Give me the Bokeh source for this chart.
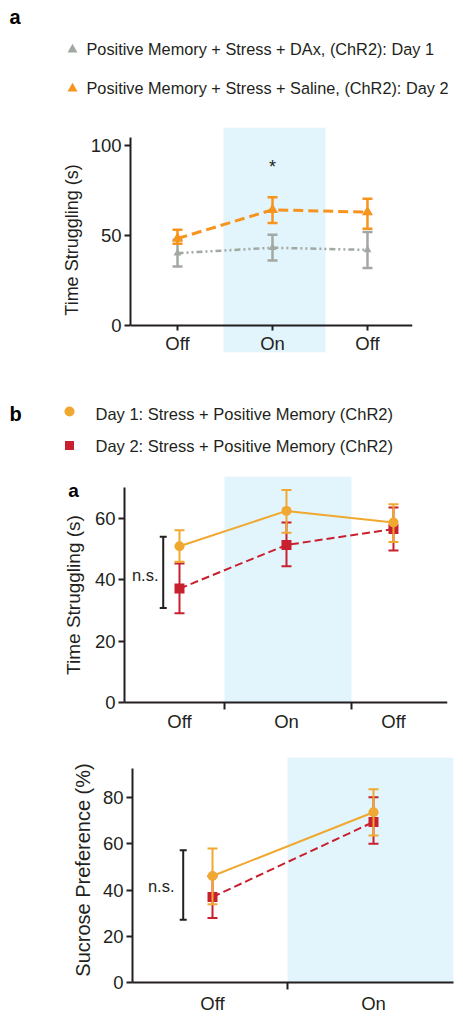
from bokeh.plotting import figure
from bokeh.layouts import column
from bokeh.models import Range1d, FixedTicker, BoxAnnotation
from bokeh.core.properties import value
from bokeh.embed import file_html
from bokeh.resources import INLINE

FONT = "Liberation Sans"
INK = "#231F20"
SHADE = "#E2F4FC"
ORANGE_A = "#F7941E"
GRAY_A = "#A2A9A3"
ORANGE_B = "#F0A830"
RED_B = "#C8202F"
W = 463

# ---------------- data ----------------
# panel a
a_conditions = ["Off", "On", "Off"]
a_x = [0, 1, 2]
a_dax_mean = [40.2, 43.2, 42.0]
a_dax_lo = [32.8, 36.1, 32.0]
a_dax_hi = [47.6, 50.4, 52.0]
a_sal_mean = [48.3, 64.3, 63.0]
a_sal_lo = [45.4, 57.0, 53.7]
a_sal_hi = [53.2, 71.3, 70.4]
a_legend = ["Positive Memory + Stress + DAx, (ChR2): Day 1",
            "Positive Memory + Stress + Saline, (ChR2): Day 2"]

# panel b, time struggling
b1_conditions = ["Off", "On", "Off"]
b1_x = [0, 1, 2]
b1_day1_mean = [50.9, 62.4, 58.6]
b1_day1_lo = [45.8, 55.3, 52.3]
b1_day1_hi = [56.1, 69.2, 64.6]
b1_day2_mean = [37.1, 51.3, 56.5]
b1_day2_lo = [29.1, 44.4, 49.5]
b1_day2_hi = [45.3, 58.6, 63.5]

# panel b, sucrose preference
b2_conditions = ["Off", "On"]
b2_x = [0, 1]
b2_day1_mean = [46.1, 73.7]
b2_day1_lo = [33.9, 63.6]
b2_day1_hi = [58.0, 83.7]
b2_day2_mean = [37.0, 69.5]
b2_day2_lo = [27.9, 60.1]
b2_day2_hi = [46.0, 80.2]
b_legend = ["Day 1: Stress + Positive Memory (ChR2)",
            "Day 2: Stress + Positive Memory (ChR2)"]


def style_axes(p, label_size="18px"):
    for ax in p.axis:
        ax.axis_line_width = 2
        ax.axis_line_color = INK
        ax.major_tick_line_width = 2
        ax.major_tick_line_color = INK
        ax.minor_tick_line_width = 2
        ax.minor_tick_line_color = INK
        ax.major_tick_in = 0
        ax.minor_tick_in = 0
        ax.minor_tick_out = 0
        ax.major_tick_out = 6
        ax.major_label_text_font = FONT
        ax.major_label_text_font_size = "18.5px"
        ax.major_label_text_color = INK
        ax.axis_label_text_font = FONT
        ax.axis_label_text_font_size = label_size
        ax.axis_label_text_font_style = "normal"
        ax.axis_label_text_color = INK
    p.grid.visible = False
    p.outline_line_color = None


def errorbars(p, xs, lo, hi, color, width=2, cap=10):
    p.segment(x0=xs, y0=lo, x1=xs, y1=hi, line_color=color, line_width=width)
    p.scatter(x=xs + xs, y=lo + hi, marker="dash", size=cap, line_color=color,
              line_width=width)


def legend_fig(h, y0):
    p = figure(width=W, height=h, x_range=Range1d(0, W), y_range=Range1d(y0 + h, y0),
               x_axis_type=None, y_axis_type=None, toolbar_location=None,
               output_backend="svg", min_border=0, min_border_left=0, min_border_right=0,
               min_border_top=0, min_border_bottom=0, frame_align=False)
    p.grid.visible = False
    p.outline_line_color = None
    return p


# ---------------- legend a ----------------
L1 = legend_fig(108, 0)
L1.text(x=[9], y=[16], text=["a"], text_font=value(FONT), text_font_size="20px",
        text_font_style="bold", text_baseline="middle", text_color="black")
L1.scatter(x=[72], y=[49], marker="triangle", size=10, fill_color=GRAY_A, line_color=None)
L1.scatter(x=[72], y=[88], marker="triangle", size=10, fill_color=ORANGE_A, line_color=None)
L1.text(x=[86, 86], y=[48, 87], text=a_legend, text_font=value(FONT), text_font_size="16.3px",
        text_baseline="middle", text_color=INK)

# ---------------- panel a ----------------
p1 = figure(width=W, height=252, x_range=Range1d(-0.495, 2.474), y_range=Range1d(-15, 110),
            min_border_left=130, min_border_right=W - 412, min_border_top=19, min_border_bottom=8,
            toolbar_location=None, output_backend="svg", frame_align=False)
p1.add_layout(BoxAnnotation(left=0.484, right=1.558, fill_color=SHADE, fill_alpha=1,
                            line_color=None, level="underlay"))
style_axes(p1, "18px")
p1.xaxis.fixed_location = 0
p1.xaxis.ticker = FixedTicker(ticks=a_x)
p1.xaxis.major_label_overrides = {x: c for x, c in zip(a_x, a_conditions)}
p1.xaxis.major_tick_out = 5
p1.xaxis.major_label_standoff = 2
p1.yaxis.ticker = FixedTicker(ticks=[0, 50, 100])
p1.yaxis.bounds = (0, 104.6)
p1.yaxis.axis_label = "Time Struggling (s)"
p1.yaxis.major_label_standoff = 3
p1.yaxis.axis_label_standoff = 6

errorbars(p1, a_x, a_dax_lo, a_dax_hi, GRAY_A, width=2.5)
p1.line(a_x, a_dax_mean, line_color=GRAY_A, line_width=2.5, line_dash="6 3 2 3 2 3")
p1.scatter(a_x, a_dax_mean, marker="triangle", size=8, fill_color=GRAY_A, line_color=None)
errorbars(p1, a_x, a_sal_lo, a_sal_hi, ORANGE_A, width=2.5)
p1.line(a_x, a_sal_mean, line_color=ORANGE_A, line_width=3, line_dash="10 5")
p1.scatter(a_x, a_sal_mean, marker="triangle", size=11, fill_color=ORANGE_A, line_color=None)
p1.text(x=[1], y=[88], text=["*"], text_font=value(FONT), text_font_size="18px",
        text_align="center", text_baseline="middle", text_color=INK)

# ---------------- legend b ----------------
L2 = legend_fig(110, 360)
L2.text(x=[9], y=[413], text=["b"], text_font=value(FONT), text_font_size="20px",
        text_font_style="bold", text_baseline="middle", text_color="black")
L2.scatter(x=[69], y=[411], marker="circle", size=10, fill_color=ORANGE_B, line_color=None)
L2.scatter(x=[69], y=[445], marker="square", size=9, fill_color=RED_B, line_color=None)
L2.text(x=[95, 95], y=[413, 445], text=b_legend, text_font=value(FONT), text_font_size="16.5px",
        text_baseline="middle", text_color=INK)

# ---------------- panel b, time struggling ----------------
# frame covers the whole figure (except top/right); both axes are placed at fixed positions
p2 = figure(width=W, height=275, x_range=Range1d(-1.673, 2.505), y_range=Range1d(-14.0, 73.6),
            min_border=0, min_border_left=0, min_border_right=W - 447, min_border_top=6,
            min_border_bottom=0, toolbar_location=None, output_backend="svg", frame_align=False)
p2.add_layout(BoxAnnotation(left=0.42, right=1.607, bottom=0, fill_color=SHADE, fill_alpha=1,
                            line_color=None, level="underlay"))
style_axes(p2, "19px")
p2.xaxis.fixed_location = 0
p2.xaxis.bounds = (-0.514, 2.505)
p2.xaxis.ticker = FixedTicker(ticks=b1_x, minor_ticks=[0.42, 1.607])
p2.xaxis.major_label_overrides = {x: c for x, c in zip(b1_x, b1_conditions)}
p2.xaxis.major_tick_out = 0
p2.xaxis.minor_tick_out = 7
p2.xaxis.major_label_standoff = 1
p2.yaxis.fixed_location = -0.514
p2.yaxis.ticker = FixedTicker(ticks=[0, 20, 40, 60])
p2.yaxis.bounds = (0, 70)
p2.yaxis.axis_label = "Time Struggling (s)"
p2.yaxis.major_label_standoff = 3
p2.yaxis.axis_label_standoff = 8

p2.line(b1_x, b1_day2_mean, line_color=RED_B, line_width=2, line_dash="8 4")
errorbars(p2, b1_x, b1_day2_lo, b1_day2_hi, RED_B)
p2.scatter(b1_x, b1_day2_mean, marker="square", size=10, fill_color=RED_B, line_color=None)
p2.line(b1_x, b1_day1_mean, line_color=ORANGE_B, line_width=2)
errorbars(p2, b1_x, b1_day1_lo, b1_day1_hi, ORANGE_B)
p2.scatter(b1_x, b1_day1_mean, marker="circle", size=10, fill_color=ORANGE_B, line_color=None)
# n.s. bracket
p2.segment(x0=[-0.152], y0=[30.8], x1=[-0.152], y1=[54.0], line_color=INK, line_width=2)
p2.scatter(x=[-0.152, -0.152], y=[30.8, 54.0], marker="dash", size=7, line_color=INK, line_width=2)
p2.text(x=[-0.196], y=[41.4], text=["n.s."], text_font=value(FONT), text_font_size="16.5px",
        text_align="right", text_baseline="middle", text_color=INK)
p2.text(x=[-1.04], y=[69], text=["a"], text_font=value(FONT), text_font_size="19px",
        text_font_style="bold", text_baseline="middle", text_color="black")

# ---------------- panel b, sucrose preference ----------------
p3 = figure(width=W, height=271, x_range=Range1d(-0.497, 1.497), y_range=Range1d(0, 97.4),
            min_border_left=132, min_border_right=W - 453, min_border_top=12, min_border_bottom=33,
            toolbar_location=None, output_backend="svg", frame_align=False)
p3.add_layout(BoxAnnotation(left=0.466, fill_color=SHADE, fill_alpha=1,
                            line_color=None, level="underlay"))
style_axes(p3, "20px")
p3.xaxis.ticker = FixedTicker(ticks=b2_x, minor_ticks=[0.466])
p3.xaxis.major_label_overrides = {x: c for x, c in zip(b2_x, b2_conditions)}
p3.xaxis.major_tick_out = 0
p3.xaxis.minor_tick_out = 7
p3.xaxis.major_label_standoff = 3
p3.yaxis.ticker = FixedTicker(ticks=[0, 20, 40, 60, 80])
p3.yaxis.bounds = (0, 92.5)
p3.yaxis.axis_label = "Sucrose Preference (%)"
p3.yaxis.major_label_standoff = 3
p3.yaxis.axis_label_standoff = 6

p3.line(b2_x, b2_day2_mean, line_color=RED_B, line_width=2, line_dash="8 4")
errorbars(p3, b2_x, b2_day2_lo, b2_day2_hi, RED_B)
p3.scatter(b2_x, b2_day2_mean, marker="square", size=10, fill_color=RED_B, line_color=None)
p3.line(b2_x, b2_day1_mean, line_color=ORANGE_B, line_width=2)
errorbars(p3, b2_x, b2_day1_lo, b2_day1_hi, ORANGE_B)
p3.scatter(b2_x, b2_day1_mean, marker="circle", size=10, fill_color=ORANGE_B, line_color=None)
p3.segment(x0=[-0.182], y0=[27.2], x1=[-0.182], y1=[57.3], line_color=INK, line_width=2)
p3.scatter(x=[-0.182, -0.182], y=[27.2, 57.3], marker="dash", size=7, line_color=INK, line_width=2)
p3.text(x=[-0.236], y=[41.6], text=["n.s."], text_font=value(FONT), text_font_size="16.5px",
        text_align="right", text_baseline="middle", text_color=INK)

layout = column(L1, p1, L2, p2, p3)
open("out.html", "w").write(file_html(layout, INLINE))
